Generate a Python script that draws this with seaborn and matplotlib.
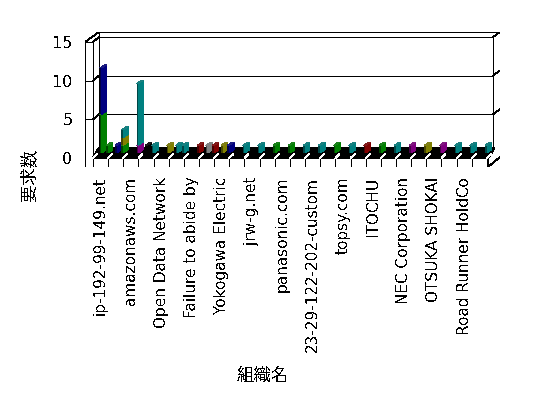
import pandas as pd
import numpy as np
import matplotlib
matplotlib.use('Agg')
import matplotlib.pyplot as plt
import seaborn as sns
from matplotlib.colors import to_rgb

# 組織名 (表示されているラベルのみ、偶数セル)
n_cells = 26
tick_labels = ['ip-192-99-149.net', 'amazonaws.com', 'Open Data Network',
               'Failure to abide by', 'Yokogawa Electric', 'jrw-g.net',
               'panasonic.com', '23-29-122-202-custom', 'topsy.com', 'ITOCHU',
               'NEC Corporation', 'OTSUKA SHOKAI', 'Road Runner HoldCo']
y_ticks = [0, 5, 10, 15]

# 積み上げの各セグメント (セル, 左右, 系列, 値)
seg_cell = [0, 0, 0, 1, 1, 1, 1, 2, 2, 3, 3, 4, 5, 5, 6, 7, 7, 8, 8,
            9, 10, 11, 12, 13, 14, 15, 16, 17, 18, 19, 20, 21, 22, 23, 24, 25]
seg_slot = ['A', 'A', 'B', 'A', 'B', 'B', 'B', 'B', 'B', 'A', 'B', 'B', 'A', 'B', 'B', 'A', 'B', 'A', 'B',
            'B', 'B', 'B', 'B', 'B', 'B', 'B', 'B', 'B', 'B', 'B', 'B', 'B', 'B', 'B', 'B', 'B']
seg_series = ['green', 'navy', 'green', 'navy', 'green', 'olive', 'teal', 'purple', 'teal',
              'black', 'teal', 'olive', 'teal', 'teal', 'maroon', 'gray', 'maroon', 'olive', 'navy',
              'teal', 'teal', 'green', 'green', 'teal', 'teal', 'green', 'teal', 'maroon',
              'green', 'teal', 'purple', 'olive', 'purple', 'teal', 'teal', 'teal']
seg_value = [5, 6, 1, 1, 1, 1, 1, 1, 8, 1, 1, 1, 1, 1, 1, 1, 1, 1, 1,
             1, 1, 1, 1, 1, 1, 1, 1, 1, 1, 1, 1, 1, 1, 1, 1, 1]

palette = {'green': '#008000', 'navy': '#000080', 'olive': '#808000', 'teal': '#008080',
           'maroon': '#800000', 'purple': '#800080', 'black': '#000000', 'gray': '#808080'}
stack_order = ['black', 'gray', 'green', 'purple', 'navy', 'olive', 'maroon', 'teal']

df = pd.DataFrame({'cell': seg_cell, 'slot': seg_slot, 'series': seg_series, 'value': seg_value})
df['rank'] = df['series'].map(stack_order.index)
df = df.sort_values(['cell', 'slot', 'rank'])
df['top'] = df.groupby(['cell', 'slot'])['value'].cumsum()
df['bottom'] = df['top'] - df['value']
df['x'] = df['cell'] + df['slot'].map({'A': -0.45, 'B': -0.02})

sns.set_theme(style='white')
plt.rcParams['font.family'] = ['DejaVu Sans', 'Noto Sans CJK JP']
plt.rcParams['text.antialiased'] = False
plt.rcParams['lines.antialiased'] = False
plt.rcParams['patch.antialiased'] = False

fig = plt.figure(figsize=(5.48, 3.98), dpi=100)
ax = fig.add_axes([85 / 548, (398 - 167) / 398, 415 / 548, 135 / 398])
ax.set_xlim(-1.424, 25.97)
ax.set_ylim(-1.81, 15.65)
for s in ax.spines.values():
    s.set_visible(False)

lw = 0.6
k = dict(color='black', lw=lw, zorder=2)
# 奥の壁
for v in [5, 10, 15]:
    ax.plot([-0.5, 25.5], [v, v], **k)
    ax.plot([25.5, 25.97], [v, v + 0.65], **k)
ax.plot([-0.5, 25.97], [15.65, 15.65], **k)
ax.plot([-0.5, -0.5], [0.65, 15.65], **k)
ax.plot([25.5, 25.5], [0.65, 15], **k)
ax.plot([25.97, 25.97], [-0.52, 15.65], **k)
# 左の壁
ax.plot([-1.424, -1.424], [-1.81, 14.35], **k)
ax.plot([-0.896, -0.896], [-1.81, 14.35], **k)
ax.plot([-1.424, -0.896], [14.35, 14.35], **k)
ax.plot([-1.424, -0.5], [14.35, 15.65], **k)
for v in [5, 10, 15]:
    ax.plot([-1.424, -0.896], [v - 0.65, v - 0.65], **k)
    ax.plot([-0.896, -0.5], [v - 0.65, v], **k)
# 床
ax.fill([-0.896, 25.18, 25.6, -0.5], [-0.65, -0.65, 0.65, 0.65], color='black', zorder=1)
ax.fill([-0.896, 25.18, 25.18, -0.896], [-1.81, -1.81, -0.65, -0.65],
        facecolor='white', edgecolor='black', lw=lw, zorder=2)
ax.plot([-1.424, 25.18], [-1.81, -1.81], **k)
ax.plot([25.18, 25.97], [-1.81, -0.52], **k)
for i in range(n_cells + 1):
    x = i - 0.896
    ax.plot([x, x], [-1.81, -0.65], **k)
    ax.plot([x, x + 0.27], [-0.65, -0.13], color='white', lw=lw, zorder=3)

# 棒 (前面 + 側面)
fw, dx, dy = 0.14, 0.3, 0.4
for _, r in df.iterrows():
    base = np.array(to_rgb(palette[r['series']]))
    ax.bar(r['x'], r['value'], bottom=r['bottom'], width=fw, align='edge',
           color=base * 0.55, edgecolor='none', zorder=4)
    x1 = r['x'] + fw
    ax.fill([x1, x1 + dx, x1 + dx, x1],
            [r['bottom'], r['bottom'] + dy, r['top'] + dy, r['top']],
            color=base, edgecolor='none', zorder=4)
    ax.fill([r['x'], x1, x1 + dx, r['x'] + dx],
            [r['top'], r['top'], r['top'] + dy, r['top'] + dy],
            color=np.minimum(base * 0.8 + 0.1, 1), edgecolor='none', zorder=4)

ax.set_yticks([v - 0.65 for v in y_ticks])
ax.set_yticklabels([str(v) for v in y_ticks], fontsize=11.5)
ax.set_xticks([i - 0.396 for i in range(0, n_cells, 2)])
ax.set_xticklabels(tick_labels, rotation=90, fontsize=11)
ax.tick_params(axis='y', length=0, pad=9, colors='black')
ax.tick_params(axis='x', length=0, pad=7, colors='black')

ax.set_xlabel('組織名', fontsize=12.5, color='black')
ax.xaxis.set_label_coords(0.427, -1.48)
ax.set_ylabel('要求数', fontsize=12.5, color='black')
ax.yaxis.set_label_coords(-0.112, -0.06)

fig.savefig('out.png', dpi=100)
